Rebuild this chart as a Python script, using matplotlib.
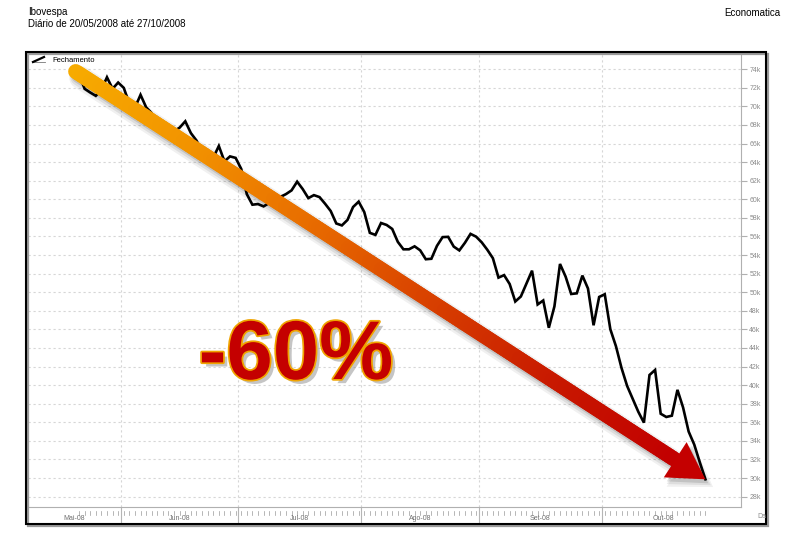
import numpy as np
import matplotlib
matplotlib.use("Agg")
import matplotlib.pyplot as plt
from matplotlib.collections import LineCollection
from matplotlib.patches import Rectangle, Polygon
from matplotlib.transforms import blended_transform_factory, IdentityTransform
from matplotlib.colors import LinearSegmentedColormap
import matplotlib.patheffects as pe

# ---------------- data ----------------
title = "Ibovespa"
subtitle = "Diário de 20/05/2008 até 27/10/2008"
source = "Economatica"
series_name = "Fechamento"
change_label = "-60%"

month_labels = ["Mai-08", "Jun-08", "Jul-08", "Ago-08", "Set-08", "Out-08"]
month_days = [8, 21, 22, 21, 22, 19]          # trading days of each month in the period

# daily close, thousands of points
fechamento = [
    73.52, 71.90, 71.50, 71.14, 71.79, 73.14, 71.90, 72.57,            # Mai
    72.00, 70.29, 69.86, 71.25, 69.91, 69.27, 68.26, 67.72, 67.40, 67.33,
    67.72, 68.40, 67.13, 66.33, 65.16, 64.51, 64.48, 65.74, 64.09, 64.62,
    64.46,                                                              # Jun
    63.28, 60.56, 59.42, 59.49, 59.24, 59.60, 60.18, 60.26, 60.56, 60.96,
    61.90, 61.10, 60.13, 60.45, 60.24, 59.52, 58.74, 57.40, 57.19, 57.78,
    59.17, 59.75,                                                       # Jul
    58.63, 56.39, 56.17, 57.45, 57.24, 56.81, 55.42, 54.62, 54.62, 54.94,
    54.51, 53.55, 53.60, 54.99, 55.93, 55.96, 54.91, 54.50, 55.32, 56.28,
    55.98,                                                              # Ago
    55.37, 54.57, 53.66, 51.57, 51.84, 50.88, 49.00, 49.54, 50.93, 52.32,
    48.68, 49.11, 46.17, 48.47, 53.04, 51.68, 49.81, 49.88, 51.79, 50.40,
    46.44, 49.49,                                                       # Set
    49.78, 46.01, 44.19, 41.84, 39.91, 38.52, 37.13, 35.96, 41.09, 41.63,
    36.92, 36.57, 36.71, 39.49, 37.60, 35.00, 33.60, 31.68, 29.86,      # Out
]

ytick_values = list(range(28, 76, 2))

# ---------------- figure ----------------
W, H = 790, 534
plt.rcParams["font.family"] = ["Liberation Sans", "DejaVu Sans"]
fig = plt.figure(figsize=(W / 100, H / 100), dpi=100)
fig.patch.set_facecolor("white")

def fx(px):
    return px / W

def fy(py):
    return 1 - py / H

ax_l, ax_r, ax_t, ax_b = 28, 741, 53, 507
ax = fig.add_axes([fx(ax_l), fy(ax_b), fx(ax_r - ax_l), (ax_b - ax_t) / H])
ax.set_facecolor("white")

days = np.arange(len(fechamento))
ax.plot(days, fechamento, color="black", lw=1.9, zorder=3, solid_joinstyle="miter")

ax.set_xlim(-9.12, 118.36)
ax.set_ylim(26.88, 75.75)

# month boundaries
starts = np.concatenate([[0], np.cumsum(month_days)])
bounds = starts[1:-1] - 0.5
ax.set_xticks(bounds)
ax.tick_params(axis="x", length=0, labelbottom=False)

ax.yaxis.tick_right()
ax.set_yticks(ytick_values)
ax.set_yticklabels([f"{v}k" for v in ytick_values])
ax.tick_params(axis="y", length=4, color="#b0b0b0", width=0.8, labelsize=5,
               labelcolor="#8a8a8a", pad=2)

ax.grid(True, color="#d6d6d6", lw=0.8, linestyle=(0, (2, 2.5)))
ax.set_axisbelow(True)
for s in ["left", "top"]:
    ax.spines[s].set_visible(False)
for s in ["right", "bottom"]:
    ax.spines[s].set_color("#b0b0b0")
    ax.spines[s].set_linewidth(0.8)

# x-axis band below the axes
band = (524 - ax_b) / (ax_b - ax_t)
tr = blended_transform_factory(ax.transData, ax.transAxes)
for b in bounds:
    ax.plot([b, b], [0, -band], transform=tr, color="#b5b5b5", lw=0.8, clip_on=False)
for d in days:
    ax.plot([d, d], [-4 / 454, -8 / 454], transform=tr, color="#9a9a9a", lw=0.5, clip_on=False)
left_edge = ax.get_xlim()[0]
for i, lab in enumerate(month_labels):
    a = starts[i] - 0.5 if i > 0 else left_edge
    b = starts[i + 1] - 0.5
    ax.text((a + b) / 2 + (1.5 if i == len(month_labels) - 1 else 0), -11.5 / 454, lab,
            transform=tr, ha="center", va="center", fontsize=5, color="#707070")

fig.text(fx(757), fy(517), "Da", fontsize=5, color="#8a8a8a", ha="left", va="center")

# outer frame with shadow
fig.patches.append(Rectangle((fx(28), fy(526)), fx(740), (472) / H, transform=fig.transFigure,
                             fill=False, ec="#9a9a9a", lw=1.6, zorder=0))
fig.patches.append(Rectangle((fx(26), fy(524)), fx(740), (472) / H, transform=fig.transFigure,
                             fill=False, ec="black", lw=1.5, zorder=1))

# titles
fig.text(fx(28), fy(12), title, fontsize=7, ha="left", va="center")
fig.text(fx(28), fy(24), subtitle, fontsize=7, ha="left", va="center")
fig.text(fx(780), fy(13), source, fontsize=7, ha="right", va="center")

# legend
fig.add_artist(plt.Line2D([fx(32), fx(45)], [fy(61.5), fy(61.5)], color="#777777", lw=0.6,
                          transform=fig.transFigure))
fig.add_artist(plt.Line2D([fx(33), fx(44)], [fy(62), fy(57)], color="black", lw=1.6,
                          transform=fig.transFigure))
fig.text(fx(52), fy(60), series_name, fontsize=5.5, ha="left", va="center")

# ---------------- arrow ----------------
fig.canvas.draw()
p0 = ax.transData.transform((days[0], fechamento[0]))
p1 = ax.transData.transform((days[-1], fechamento[-1]))
vec = p1 - p0
L = np.hypot(*vec)
u = vec / L
n = np.array([-u[1], u[0]])
p0 = p0 - 4 * u
head_len, head_half = 36, 21
base = p1 - head_len * u
shaft_w = 15 * 72 / 100

ident = IdentityTransform()
# shadow
for k, (off, a, extra) in enumerate([((5, -6), 0.06, 8), ((4, -5), 0.08, 4), ((3, -4), 0.12, 0)]):
    o = np.array(off)
    ax.add_line(plt.Line2D([p0[0] + o[0], base[0] + o[0]], [p0[1] + o[1], base[1] + o[1]],
                           transform=ident, color="black", alpha=a, lw=shaft_w + extra * 0.72,
                           solid_capstyle="round", clip_on=False, zorder=5))
    tri = np.array([p1 + o + u * extra * 0.4, base + o + n * (head_half + extra * 0.5),
                    base + o - n * (head_half + extra * 0.5)])
    ax.add_patch(Polygon(tri, closed=True, transform=ident, fc="black", ec="none",
                         alpha=a, clip_on=False, zorder=5))

N = 200
ts = np.linspace(0, 1, N + 1)
pts = p0[None, :] + (base - p0)[None, :] * ts[:, None]
segs = np.stack([pts[:-1], pts[1:]], axis=1)
cmap = LinearSegmentedColormap.from_list(
    "arr", ["#f7ab00", "#f29300", "#e86c00", "#d84000", "#c81a00", "#c20000"])
lc = LineCollection(segs, colors=cmap((ts[:-1] + ts[1:]) / 2), linewidths=shaft_w,
                    capstyle="round", transform=ident, clip_on=False, zorder=6)
ax.add_collection(lc)
tri = np.array([p1, base + n * head_half, base - n * head_half])
ax.add_patch(Polygon(tri, closed=True, transform=ident, fc="#c40000", ec="none",
                     clip_on=False, zorder=7))

# ---------------- -60% label ----------------
fig.text(fx(296), fy(357), change_label, fontsize=60, fontweight="bold",
         family=["Liberation Sans", "DejaVu Sans"],
         color="#c40000", ha="center", va="center", zorder=10,
         path_effects=[pe.SimplePatchShadow(offset=(3, -3), shadow_rgbFace="#808080", alpha=0.45),
                       pe.Stroke(linewidth=2.5, foreground="#f0a400"),
                       pe.Normal()])

fig.savefig("out.png", dpi=100, facecolor="white")
